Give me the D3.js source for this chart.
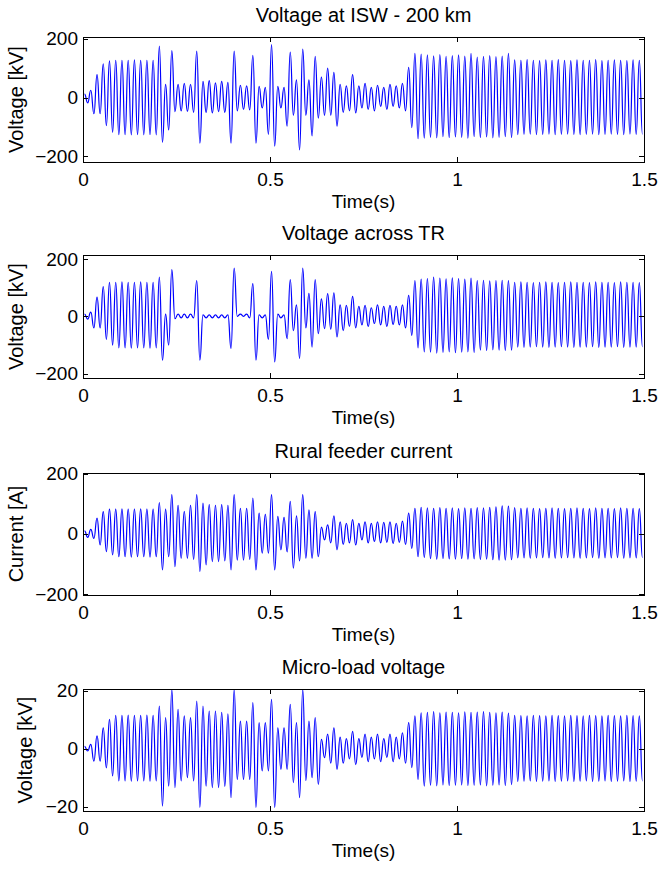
<!DOCTYPE html>
<html>
<head>
<meta charset="utf-8">
<title>Waveforms</title>
<script src="https://d3js.org/d3.v7.min.js"></script>
<style>
  body { margin: 0; background: #fff; }
  text { font-family: "Liberation Sans", Arial, sans-serif; fill: #000; }
</style>
</head>
<body>
<div id="chart"></div>
<script>
// supply frequency: each cycle gives one peak and one trough
const freq = 60

// per-cycle peak / trough values (90 cycles, 0..1.5 s)
const iswPeaks = [12, 25, 78, 115, 125, 127, 127, 127, 128, 127, 127, 127, 175, 45, 160, 45, 48, 45, 158, 55,
  58, 50, 55, 52, 158, 42, 40, 144, 38, 35, 180, 38, 35, 155, 60, 165, 60, 140, 70, 100,
  86, 45, 40, 78, 40, 48, 35, 42, 35, 45, 40, 48, 103, 150, 148, 145, 142, 146, 140, 143,
  145, 141, 150, 138, 140, 143, 139, 141, 150, 128, 127, 129, 127, 126, 128, 127, 129, 127, 126, 128,
  127, 127, 129, 126, 127, 128, 127, 126, 128, 127]
const iswTroughs = [-18, -55, -55, -95, -118, -126, -126, -127, -126, -127, -126, -127, -152, -110, -48, -45, -47, -50, -155, -50,
  -52, -48, -50, -155, -45, -40, -42, -155, -35, -125, -165, -35, -97, -60, -178, -60, -130, -70, -60, -60,
  -97, -50, -45, -52, -35, -40, -45, -30, -40, -30, -35, -45, -102, -140, -138, -135, -137, -133, -136, -134,
  -135, -138, -133, -136, -134, -137, -135, -133, -136, -126, -125, -124, -126, -125, -124, -126, -125, -124, -125, -126,
  -125, -124, -126, -125, -124, -125, -126, -124, -125, -125]

const trPeaks = [8, 15, 67, 104, 119, 119, 120, 119, 119, 120, 119, 119, 137, 8, 163, 8, 8, 8, 125, 5,
  5, 5, 5, 5, 168, 8, 8, 114, 5, 5, 157, 8, 5, 128, 40, 168, 80, 128, 61, 79,
  82, 40, 38, 70, 35, 38, 30, 40, 35, 38, 35, 40, 73, 125, 130, 132, 137, 133, 131, 134,
  132, 130, 133, 125, 126, 124, 125, 126, 125, 119, 120, 119, 118, 119, 120, 119, 118, 119, 120, 119,
  119, 118, 120, 119, 119, 118, 120, 119, 119, 118]
const trTroughs = [-10, -40, -40, -80, -100, -110, -110, -111, -110, -110, -111, -110, -153, -100, -8, -5, -5, -5, -153, -5,
  -5, -5, -5, -112, 0, 0, -5, -153, -5, -80, -159, -5, -78, -50, -147, -40, -107, -60, -43, -45,
  -72, -50, -35, -40, -30, -35, -25, -30, -35, -28, -30, -40, -66, -110, -124, -125, -128, -126, -124, -127,
  -125, -124, -126, -118, -119, -117, -118, -119, -118, -107, -108, -107, -106, -107, -108, -107, -106, -107, -108, -107,
  -107, -106, -108, -107, -107, -106, -108, -107, -107, -106]

const feederPeaks = [10, 15, 52, 74, 82, 82, 83, 82, 82, 83, 82, 82, 104, 82, 130, 95, 75, 95, 130, 102,
  97, 95, 97, 95, 130, 85, 85, 119, 69, 65, 130, 58, 55, 108, 60, 130, 80, 74, 22, 30,
  60, 40, 35, 47, 35, 40, 35, 40, 38, 40, 35, 42, 69, 85, 88, 86, 85, 87, 85, 86,
  84, 86, 85, 87, 86, 88, 90, 93, 92, 87, 85, 86, 85, 84, 85, 86, 85, 84, 85, 86,
  85, 84, 86, 85, 85, 84, 86, 85, 85, 84]
const feederTroughs = [-12, -15, -37, -59, -70, -76, -76, -77, -76, -76, -77, -76, -120, -76, -109, -81, -81, -85, -125, -103,
  -92, -92, -90, -120, -87, -87, -85, -120, -64, -64, -120, -53, -60, -114, -90, -81, -81, -76, -20, -30,
  -53, -35, -30, -37, -20, -30, -25, -30, -28, -32, -28, -35, -48, -76, -78, -82, -84, -82, -83, -84,
  -82, -84, -83, -85, -84, -86, -87, -87, -86, -80, -80, -81, -80, -79, -80, -81, -80, -79, -80, -81,
  -80, -79, -81, -80, -80, -79, -81, -80, -80, -79]

const loadPeaks = [0.8, 1.5, 4.4, 7.2, 10.1, 11.5, 11.5, 11.6, 11.5, 11.5, 11.6, 11.5, 14.7, 10.7, 20.5, 13.6, 11.3, 10.7, 16.4, 14.7,
  13, 13, 12.5, 12, 20.5, 9.5, 9.5, 15.9, 9, 9, 17, 7.2, 7.2, 15.3, 9, 20.5, 9.5, 10.7, 3.2, 5,
  7.2, 4, 3.5, 6, 3.5, 5, 4, 5, 3.5, 5, 4, 5.5, 9, 11.3, 12.4, 12.5, 12.8, 12.4, 12.6, 12.5,
  12.4, 12.7, 12.5, 12.6, 12.8, 12.5, 12.4, 12.6, 12.3, 11.5, 11.4, 11.3, 11.5, 11.4, 11.3, 11.5, 11.4, 11.3, 11.5, 11.4,
  11.3, 11.5, 11.4, 11.3, 11.5, 11.4, 11.3, 11.5, 11.4, 11.3]
const loadTroughs = [-0.8, -4.3, -4.3, -6.6, -9.4, -11.1, -11.1, -11.2, -11.1, -11.1, -11.2, -11.1, -19.8, -12.9, -13.4, -11.1, -10, -11.1, -20.3, -12.9,
  -13.4, -13.4, -13, -16.9, -10.6, -10.6, -10.6, -20.3, -7.7, -7.7, -20.3, -7.1, -7.1, -11.7, -16.9, -11, -10, -12.3, -3.1, -5,
  -7.1, -5, -3.5, -5.5, -3, -4.5, -3.5, -4.5, -3, -4.5, -3.5, -5, -6.5, -10.6, -12.9, -12.6, -12.8, -12.5, -12.7, -12.6,
  -12.5, -12.7, -12.6, -12.5, -12.8, -12.6, -12.5, -12.7, -12.4, -11.3, -11.2, -11.1, -11.3, -11.2, -11.1, -11.3, -11.2, -11.1, -11.3, -11.2,
  -11.1, -11.3, -11.2, -11.1, -11.3, -11.2, -11.1, -11.3, -11.2, -11.1]

const titles = ["Voltage at ISW - 200 km", "Voltage across TR", "Rural feeder current", "Micro-load voltage"]
const yLabels = ["Voltage [kV]", "Voltage [kV]", "Current [A]", "Voltage [kV]"]
const xTicks = [0, 0.5, 1, 1.5]
const yTicks = [[-200, 0, 200], [-200, 0, 200], [-200, 0, 200], [-20, 0, 20]]
const yLimits = [[-219, 206], [-215, 214], [-203, 202], [-21.5, 20.6]]
const xLabel = "Time(s)"

let W = 659, H = 872
let left = 83, right = 644
let panelTops = [37, 255, 473, 689]
let panelBottoms = [162, 378, 595, 811]
let yLabelX = [23, 23, 23, 32]
let tickFont = 19, labelFont = 19, yLabelFont = 20, titleFont = 20

let svg = d3.select("#chart")
    .append("svg")
    .attr("width", W)
    .attr("height", H)

let xScale = d3.scaleLinear().domain([0, 1.5]).range([left, right])

function waveform(peaks, troughs) {
    // one point per half cycle, alternating peak / trough
    let pts = []
    peaks.forEach(function(p, i) {
        pts.push([(i + 0.25) / freq, p])
        pts.push([(i + 0.75) / freq, troughs[i]])
    })
    return pts
}

function drawPanel(k, peaks, troughs) {
    let top = panelTops[k], bottom = panelBottoms[k]
    let yScale = d3.scaleLinear().domain(yLimits[k]).range([bottom, top])
    let g = svg.append("g")

    // signal
    let line = d3.line()
        .x(function(d) { return xScale(d[0]) })
        .y(function(d) { return yScale(d[1]) })
        .curve(d3.curveBumpX)
    g.append("path")
        .datum(waveform(peaks, troughs))
        .attr("d", line)
        .attr("fill", "none")
        .attr("stroke", "#0000ff")
        .attr("stroke-width", 1.2)

    // axes box with inward ticks
    let xb = g.append("g").attr("transform", "translate(0," + bottom + ")")
        .call(d3.axisBottom(xScale).tickValues(xTicks).tickFormat(d3.format("")).tickSizeInner(-5).tickSizeOuter(0).tickPadding(11))
    let xt = g.append("g").attr("transform", "translate(0," + top + ")")
        .call(d3.axisTop(xScale).tickValues(xTicks).tickFormat("").tickSizeInner(-5).tickSizeOuter(0))
    let yl = g.append("g").attr("transform", "translate(" + left + ",0)")
        .call(d3.axisLeft(yScale).tickValues(yTicks[k]).tickSizeInner(-5).tickSizeOuter(0).tickPadding(5))
    let yr = g.append("g").attr("transform", "translate(" + right + ",0)")
        .call(d3.axisRight(yScale).tickValues(yTicks[k]).tickFormat("").tickSizeInner(-5).tickSizeOuter(0))

    ;[xb, xt, yl, yr].forEach(function(a) {
        a.selectAll("path").attr("stroke", "#000").attr("shape-rendering", "crispEdges")
        a.selectAll("line").attr("stroke", "#000").attr("shape-rendering", "crispEdges")
        a.selectAll("text").attr("font-size", tickFont + "px").attr("font-family", null)
    })

    // title
    g.append("text")
        .attr("x", (left + right) / 2)
        .attr("y", top - 15)
        .attr("text-anchor", "middle")
        .attr("font-size", titleFont + "px")
        .text(titles[k])

    // x label
    g.append("text")
        .attr("x", (left + right) / 2)
        .attr("y", bottom + 46)
        .attr("text-anchor", "middle")
        .attr("font-size", labelFont + "px")
        .text(xLabel)

    // y label
    g.append("text")
        .attr("transform", "translate(" + yLabelX[k] + "," + ((top + bottom) / 2) + ") rotate(-90)")
        .attr("text-anchor", "middle")
        .attr("font-size", yLabelFont + "px")
        .text(yLabels[k])
}

drawPanel(0, iswPeaks, iswTroughs)
drawPanel(1, trPeaks, trTroughs)
drawPanel(2, feederPeaks, feederTroughs)
drawPanel(3, loadPeaks, loadTroughs)
</script>
</body>
</html>
